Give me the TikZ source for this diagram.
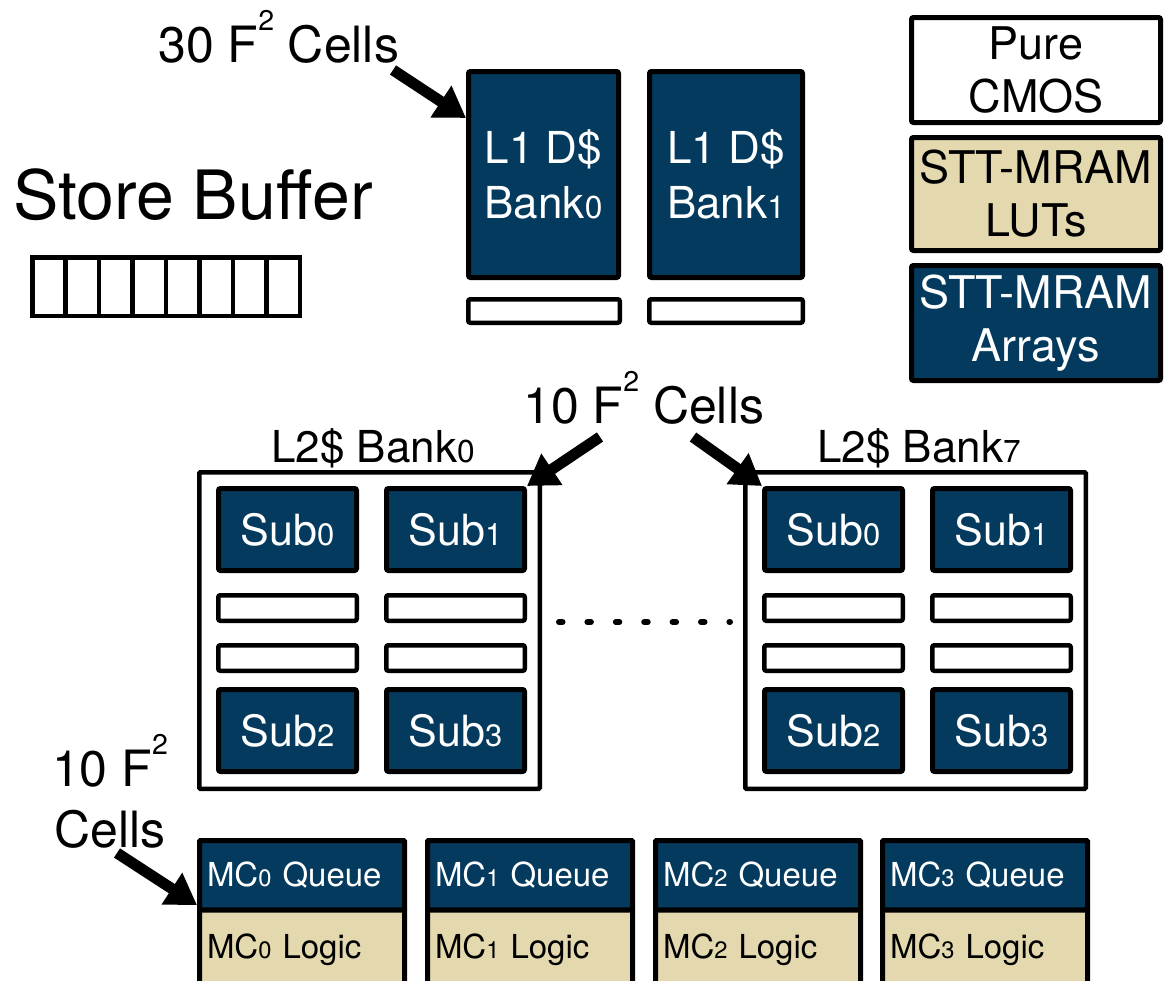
\documentclass[tikz,border=0pt]{standalone}
\usepackage{fontspec}
\setmainfont{TeX Gyre Heros}
\usepackage{graphicx}
\usetikzlibrary{arrows.meta}
\definecolor{navy}{RGB}{3,58,94}
\definecolor{tan}{RGB}{227,216,174}
% font size helper, small subscript digit, superscript "2"
\newcommand{\fsz}[2]{\fontsize{#1pt}{#2pt}\selectfont}
\newcommand{\dg}[1]{\scalebox{0.72}{#1}}
\newcommand{\sq}{\raisebox{0.64em}{\scalebox{0.57}{2}}}
\tikzset{
  blkbox/.style={draw=black, line width=5pt, rounded corners=2pt, inner sep=0pt, align=center},
  arraybox/.style={blkbox, fill=navy, text=white},
  lutbox/.style={blkbox, fill=tan, text=black},
  plainbox/.style={blkbox, fill=white, text=black},
  thinbar/.style={draw=black, line width=4.5pt, rounded corners=2pt, fill=white, inner sep=0pt},
  bufcell/.style={draw=black, line width=4.5pt, fill=white, inner sep=0pt, minimum width=33.44pt, minimum height=58.5pt},
  cachebox/.style={draw=black, line width=4.5pt, rounded corners=1pt, inner sep=0pt, minimum width=340.5pt, minimum height=316.5pt},
  subbox/.style={arraybox, minimum width=138pt, minimum height=82pt, font=\fsz{43}{48}},
  l2bar/.style={thinbar, minimum width=138.5pt, minimum height=25.5pt},
  legendbox/.style={blkbox, minimum width=249pt, font=\fsz{45}{53}},
  bigtext/.style={inner sep=0pt, font=\fsz{50}{61}},
  celllink/.style={line width=11pt, -{Triangle[length=30pt,width=36pt]}},
  mcq/.style={arraybox, rounded corners=1pt, minimum width=205pt, minimum height=69.5pt, text width=190pt, align=left, font=\fsz{33}{38}},
  mcl/.style={lutbox, rounded corners=1pt, minimum width=205pt, minimum height=80pt, text width=190pt, align=left, font=\fsz{33}{38}},
}
\begin{document}
\begin{tikzpicture}[x=1pt, y=-1pt]
\clip (0,0) rectangle (1166,980);
\fill[white] (0,0) rectangle (1166,980);

% ---- L1 data cache banks
\node[arraybox, minimum width=150pt, minimum height=206pt, font=\fsz{44}{55}] (l1a) at (543.5,174.5) {L1 D\$\\Bank\dg{0}};
\node[arraybox, minimum width=153pt, minimum height=206pt, font=\fsz{44}{55}] (l1b) at (726,174.5) {L1 D\$\\Bank\dg{1}};
\node[thinbar, minimum width=151.5pt, minimum height=23.5pt] (l1abar) at (544,311) {};
\node[thinbar, minimum width=153.5pt, minimum height=23.5pt] (l1bbar) at (726,311) {};

\node[bigtext, anchor=base west] (c30) at (158,62) {30 F\sq\ Cells};
\coordinate (c30from) at (393,70);
\coordinate (c30to) at (466,118);
\draw[celllink] (c30from) -- (c30to);

% ---- legend
\node[legendbox, fill=white, minimum height=105pt] (legcmos) at (1036,70) {Pure\\CMOS};
\node[legendbox, fill=tan, minimum height=113pt] (leglut) at (1036,194) {STT-MRAM\\LUTs};
\node[legendbox, fill=navy, text=white, minimum height=115pt] (legarr) at (1036,323) {STT-MRAM\\Arrays};

% ---- store buffer
\node[inner sep=0pt, anchor=base west, font=\fsz{68}{72}] (sbtitle) at (13,219) {Store Buffer};
\foreach \i in {0,...,7}
  \node[bufcell] (buf\i) at ({32.25+33.44*(\i+0.5)},286.5) {};

% ---- L2 cache banks
\foreach \bk/\dx in {0/0,7/546}{
  \node[cachebox] (bank\bk) at ({369.5+\dx},630.5) {};
  \node[inner sep=0pt, anchor=base, font=\fsz{44}{50}] (bank\bk lbl) at ({373+\dx},462) {L2\$ Bank\dg{\bk}};
  \node[subbox] (bank\bk sub0) at ({287.5+\dx},529.5) {Sub\dg{0}};
  \node[subbox] (bank\bk sub1) at ({455.5+\dx},529.5) {Sub\dg{1}};
  \node[l2bar] (bank\bk bara) at ({287.5+\dx},608) {};
  \node[l2bar] (bank\bk barb) at ({455.5+\dx},608) {};
  \node[l2bar] (bank\bk barc) at ({287.5+\dx},658) {};
  \node[l2bar] (bank\bk bard) at ({455.5+\dx},658) {};
  \node[subbox] (bank\bk sub2) at ({287.5+\dx},730.5) {Sub\dg{2}};
  \node[subbox] (bank\bk sub3) at ({455.5+\dx},730.5) {Sub\dg{3}};
}
\coordinate (dotsl) at (559,622);
\coordinate (dotsr) at (730,622);
\draw[line width=6pt, line cap=round, dash pattern=on 3.5pt off 24.9pt] (dotsl) -- (dotsr);

\node[bigtext, anchor=base west] (c10) at (523,423) {10 F\sq\ Cells};
\coordinate (c10froml) at (600,437);
\coordinate (c10fromr) at (693,437);
\draw[celllink] (c10froml) -- (bank0sub1.north east);
\draw[celllink] (c10fromr) -- (bank7sub0.north west);

% ---- memory controllers
\foreach \i/\x in {0/302,1/530,2/758,3/985}{
  \node[mcq] (mc\i q) at (\x,875.25) {MC\dg{\i} Queue};
  \node[mcl] (mc\i l) at (\x,950) {MC\dg{\i} Logic};
}
\node[bigtext, align=center] (c10mc) at (110,791) {10 F\sq\\Cells};
\coordinate (c10mcfrom) at (117,853);
\draw[celllink] (c10mcfrom) -- (mc0q.west |- 0,905);
\end{tikzpicture}
\end{document}
